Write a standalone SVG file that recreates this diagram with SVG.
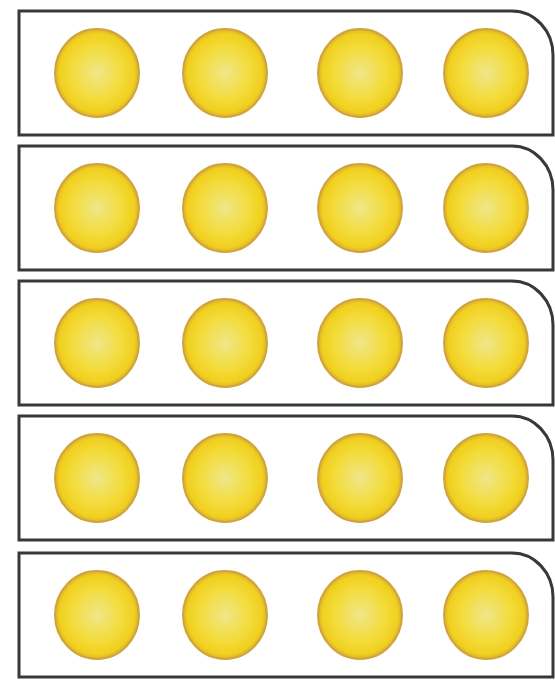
<svg xmlns="http://www.w3.org/2000/svg" width="555" height="684" viewBox="0 0 555 684">
<defs>
<radialGradient id="ball" cx="0.5" cy="0.5" r="0.5">
<stop offset="0" stop-color="#efe68a"/>
<stop offset="0.6" stop-color="#f3dc3a"/>
<stop offset="0.9" stop-color="#f1cf1e"/>
<stop offset="1" stop-color="#d9b034"/>
</radialGradient>
<path id="frame" d="M19,0 H512 A41,44 0 0 1 553,44 V124 H19 Z"/>
<g id="row">
<use href="#frame" class="fr"/>
<ellipse class="ball" cx="97" cy="62" rx="42" ry="44"/>
<ellipse class="ball" cx="225" cy="62" rx="42" ry="44"/>
<ellipse class="ball" cx="360" cy="62" rx="42" ry="44"/>
<ellipse class="ball" cx="486" cy="62" rx="42" ry="44"/>
</g>
</defs>
<style>
.fr{fill:#ffffff;stroke:#383838;stroke-width:3}
.ball{fill:url(#ball);stroke:#cfa43a;stroke-width:2}
</style>
<rect width="555" height="684" fill="#ffffff"/>
<g id="frame1"><use href="#row" x="0" y="11"/></g>
<g id="frame2"><use href="#row" x="0" y="146"/></g>
<g id="frame3"><use href="#row" x="0" y="281"/></g>
<g id="frame4"><use href="#row" x="0" y="416"/></g>
<g id="frame5"><use href="#row" x="0" y="553"/></g>
</svg>
